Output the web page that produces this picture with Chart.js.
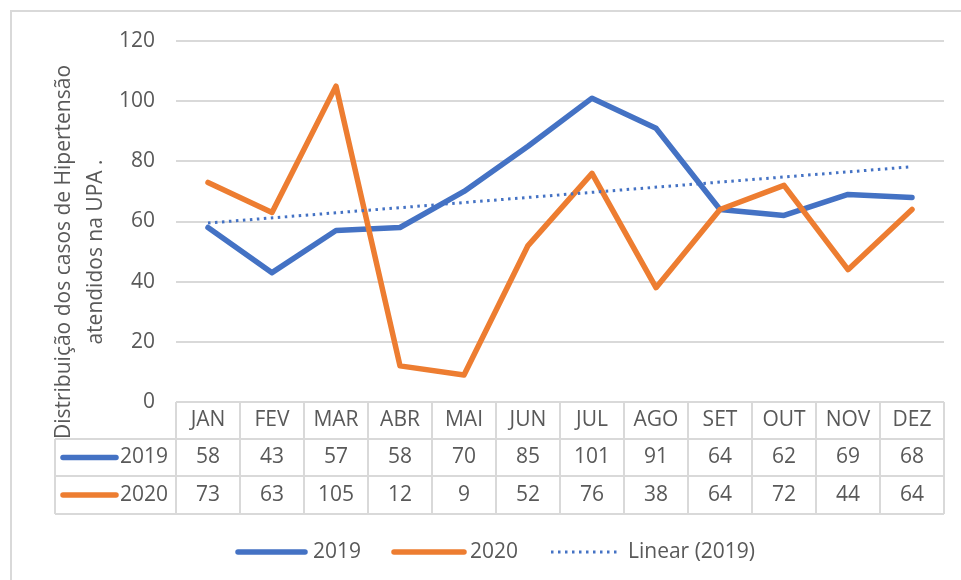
<!DOCTYPE html>
<html>
<head>
<meta charset="utf-8">
<script src="https://cdn.jsdelivr.net/npm/chart.js@4"></script>
<style>
  body { margin: 0; background: #fff; }
</style>
</head>
<body>
<canvas id="myChart" width="961" height="580"></canvas>
<script>
const months = ['JAN', 'FEV', 'MAR', 'ABR', 'MAI', 'JUN', 'JUL', 'AGO', 'SET', 'OUT', 'NOV', 'DEZ'];
const cases2019 = [58, 43, 57, 58, 70, 85, 101, 91, 64, 62, 69, 68];
const cases2020 = [73, 63, 105, 12, 9, 52, 76, 38, 64, 72, 44, 64];
// trend line: start at JAN, end at DEZ
const trend2019 = [59.5, null, null, null, null, null, null, null, null, null, null, 78.2];
const yTicks = [0, 20, 40, 60, 80, 100, 120];
const yTitle = ['Distribuição dos casos de Hipertensão', 'atendidos na UPA .'];

const blue = '#4472C4';
const orange = '#ED7D31';
const grey = '#d9d9d9';
const textColor = '#595959';
const font = '"Open Sans", sans-serif';

// draws the frame, y title, data table and legend
const excelExtras = {
    id: 'excelExtras',
    beforeDraw(chart) {
        const ctx = chart.ctx;
        ctx.save();
        ctx.strokeStyle = grey;
        ctx.lineWidth = 2;
        ctx.strokeRect(11, 11, 1000, 1000);
        ctx.restore();
    },
    afterDraw(chart) {
        const ctx = chart.ctx;
        const x = chart.scales.x;
        const area = chart.chartArea;
        const colW = (area.right - area.left) / months.length;
        const rows = [area.bottom, 439, 476, 514];
        const tableLeft = 55;

        ctx.save();
        ctx.strokeStyle = grey;
        ctx.lineWidth = 2;
        ctx.beginPath();
        // horizontal lines
        ctx.moveTo(area.left, rows[0]); ctx.lineTo(area.right, rows[0]);
        for (let r = 1; r < rows.length; r++) {
            ctx.moveTo(tableLeft, rows[r]); ctx.lineTo(area.right, rows[r]);
        }
        // vertical lines
        ctx.moveTo(tableLeft, rows[1]); ctx.lineTo(tableLeft, rows[3]);
        for (let i = 0; i <= months.length; i++) {
            const px = area.left + i * colW;
            ctx.moveTo(px, rows[0]); ctx.lineTo(px, rows[3]);
        }
        ctx.stroke();

        ctx.fillStyle = textColor;
        ctx.font = '21px ' + font;
        ctx.textAlign = 'center';
        ctx.textBaseline = 'middle';
        const series = [cases2019, cases2020];
        months.forEach((m, i) => {
            const cx = x.getPixelForValue(i);
            ctx.fillText(m, cx, (rows[0] + rows[1]) / 2);
            series.forEach((s, k) => {
                ctx.fillText(String(s[i]), cx, (rows[k + 1] + rows[k + 2]) / 2);
            });
        });

        // series keys in the table
        const keys = [['2019', blue], ['2020', orange]];
        keys.forEach((k, r) => {
            const cy = (rows[r + 1] + rows[r + 2]) / 2;
            ctx.strokeStyle = k[1];
            ctx.lineWidth = 5.5;
            ctx.lineCap = 'round';
            ctx.beginPath();
            ctx.moveTo(63, cy); ctx.lineTo(116, cy);
            ctx.stroke();
            ctx.textAlign = 'left';
            ctx.fillText(k[0], 120, cy);
        });

        // y axis title
        ctx.textAlign = 'center';
        ctx.textBaseline = 'alphabetic';
        [70, 102].forEach((bx, i) => {
            ctx.save();
            ctx.translate(bx, 252);
            ctx.rotate(-Math.PI / 2);
            ctx.fillText(yTitle[i], 0, 0);
            ctx.restore();
        });

        // legend
        const ly = 552;
        ctx.textAlign = 'left';
        ctx.textBaseline = 'middle';
        ctx.lineWidth = 5.5;
        ctx.lineCap = 'round';
        ctx.strokeStyle = blue;
        ctx.beginPath(); ctx.moveTo(238, ly); ctx.lineTo(305, ly); ctx.stroke();
        ctx.fillText('2019', 313, ly);
        ctx.strokeStyle = orange;
        ctx.beginPath(); ctx.moveTo(394, ly); ctx.lineTo(464, ly); ctx.stroke();
        ctx.fillText('2020', 470, ly);
        ctx.strokeStyle = blue;
        ctx.lineWidth = 3;
        ctx.lineCap = 'butt';
        ctx.setLineDash([2.5, 4.5]);
        ctx.beginPath(); ctx.moveTo(551, ly); ctx.lineTo(617, ly); ctx.stroke();
        ctx.setLineDash([]);
        ctx.fillText('Linear (2019)', 628, ly);
        ctx.restore();
    }
};

const data = {
    labels: months,
    datasets: [{
        label: 'Linear (2019)',
        data: trend2019,
        borderColor: blue,
        borderWidth: 3,
        borderDash: [2.5, 4.5],
        spanGaps: true,
        pointRadius: 0,
        order: 0
    }, {
        label: '2020',
        data: cases2020,
        borderColor: orange,
        borderWidth: 5.5,
        borderJoinStyle: 'round',
        borderCapStyle: 'round',
        pointRadius: 0,
        order: 1
    }, {
        label: '2019',
        data: cases2019,
        borderColor: blue,
        borderWidth: 5.5,
        borderJoinStyle: 'round',
        borderCapStyle: 'round',
        pointRadius: 0,
        order: 2
    }]
};

const config = {
    type: 'line',
    data: data,
    plugins: [excelExtras],
    options: {
        responsive: false,
        animation: false,
        layout: {
            padding: { top: 41, right: 17, bottom: 170, left: 0 }
        },
        plugins: {
            legend: { display: false },
            tooltip: { enabled: false }
        },
        scales: {
            x: {
                offset: true,
                ticks: { display: false },
                grid: { display: false },
                border: { display: false }
            },
            y: {
                min: 0,
                max: 120,
                afterFit(scale) { scale.width = 176; },
                afterBuildTicks(scale) { scale.ticks = yTicks.map(v => ({ value: v })); },
                ticks: {
                    color: textColor,
                    font: { family: font, size: 21 },
                    padding: 21
                },
                grid: { color: grey, lineWidth: 2, drawTicks: false },
                border: { display: false }
            }
        }
    }
};

let myChart = new Chart(document.getElementById('myChart'), config);
</script>
</body>
</html>
